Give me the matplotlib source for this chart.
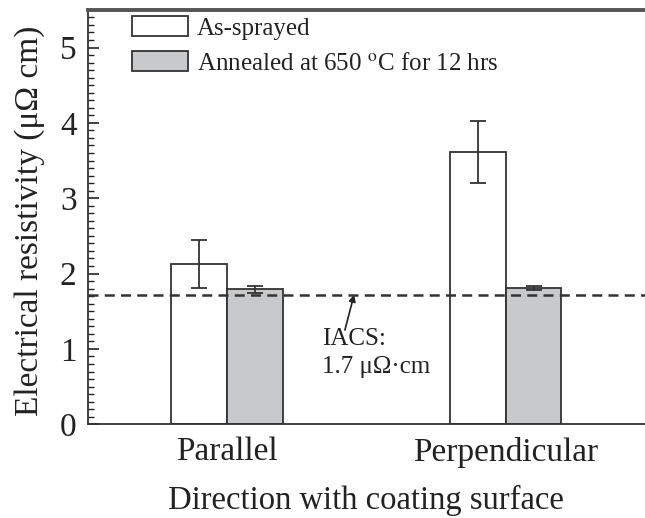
import matplotlib.pyplot as plt
import numpy as np
from matplotlib.ticker import MultipleLocator

plt.rcParams['font.family'] = ['Liberation Serif', 'DejaVu Serif']
plt.rcParams['mathtext.fontset'] = 'stix'

directions = ['Parallel', 'Perpendicular']
as_sprayed = [2.13, 3.61]
as_sprayed_err = [0.32, 0.41]
annealed = [1.79, 1.81]
annealed_err = [0.05, 0.03]
iacs = 1.72

x = np.arange(len(directions))
w = 0.2

fig = plt.figure(figsize=(6.45, 5.18), dpi=100)
ax = fig.add_axes([0.136, 0.181, 0.864, 0.80])

edge = '#333333'
ax.bar(x - w / 2, as_sprayed, w, color='white', edgecolor=edge, linewidth=1.3,
       label='As-sprayed', zorder=2)
ax.bar(x + w / 2, annealed, w, color='#c8c9cb', edgecolor=edge, linewidth=1.3,
       label='Annealed at 650 $^{\\rm o}$C for 12 hrs', zorder=2)
ax.errorbar(x - w / 2, as_sprayed, yerr=as_sprayed_err, fmt='none', ecolor=edge,
            elinewidth=1.3, capsize=5.5, capthick=1.3, zorder=3)
ax.errorbar(x + w / 2, annealed, yerr=annealed_err, fmt='none', ecolor=edge,
            elinewidth=1.3, capsize=5.5, capthick=1.3, zorder=3)

# IACS reference line
ax.axhline(iacs, color='#333333', linestyle=(0, (4, 2.5)), linewidth=1.8, zorder=4)
ax.annotate('', xy=(0.456, iacs), xytext=(0.423, 1.25),
            arrowprops=dict(arrowstyle='-|>', color='#222222', lw=1.2,
                            mutation_scale=10, shrinkA=0, shrinkB=0))
ax.text(0.34, 0.94, 'IACS:\n1.7 \u03bc\u03a9\u00b7cm', fontsize=18, color='#222222',
        va='center', ha='left', linespacing=1.35)

ax.set_xlim(-0.5, 1.5)
ax.set_ylim(0, 5.5)
ax.set_xticks(x)
ax.set_xticklabels(directions, fontsize=24, color='#222222')
ax.tick_params(axis='x', length=0, pad=9)
ax.yaxis.set_major_locator(MultipleLocator(1))
ax.yaxis.set_minor_locator(MultipleLocator(0.1))
ax.tick_params(axis='y', which='major', direction='in', length=8, width=1.2,
               labelsize=24, pad=8, colors='#222222')
ax.tick_params(axis='y', which='minor', direction='in', length=4.5, width=1.0,
               colors='#222222')

for side in ['left', 'bottom']:
    ax.spines[side].set_linewidth(1.3)
    ax.spines[side].set_color('#333333')
ax.spines['top'].set_linewidth(2.8)
ax.spines['top'].set_color('#555555')
ax.spines['right'].set_visible(False)

ax.set_ylabel('Electrical resistivity (\u03bc\u03a9 cm)', fontsize=24, color='#222222')
ax.yaxis.set_label_coords(-0.077, 0.49)
ax.set_xlabel('Direction with coating surface', fontsize=23.5, color='#222222')
ax.xaxis.set_label_coords(0.5, -0.146)

leg = ax.legend(loc='upper left', bbox_to_anchor=(0.075, 0.99), frameon=False,
                fontsize=18, handlelength=2.25, handleheight=0.85, handletextpad=0.35,
                labelspacing=0.45, borderpad=0.1, borderaxespad=0)
for t in leg.get_texts():
    t.set_color('#222222')

fig.savefig('out.png', dpi=100)
